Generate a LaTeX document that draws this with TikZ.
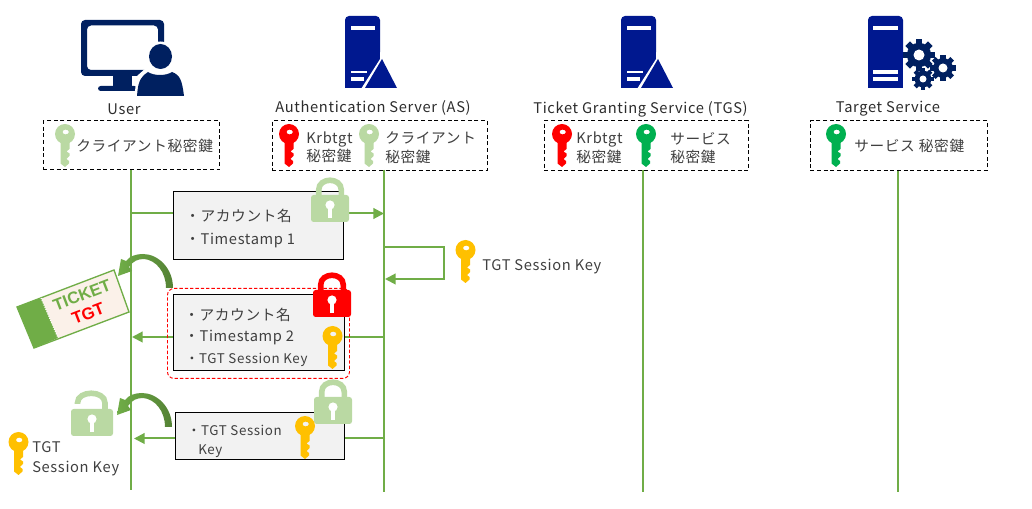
\documentclass[tikz,border=0pt]{standalone}
\usepackage{fontspec}
\setmainfont{Noto Sans CJK JP}[LetterSpace=4.5]
\newfontfamily\arialbold{Liberation Sans}[BoldFont=* Bold]
\definecolor{navy}{HTML}{002060}
\definecolor{srvblue}{HTML}{00188F}
\definecolor{lineG}{HTML}{70AD47}
\definecolor{darkG}{HTML}{548235}
\definecolor{keyPale}{HTML}{BAD9A3}
\definecolor{keyGreen}{HTML}{00B050}
\definecolor{keyGold}{HTML}{FFC000}
\definecolor{keyRed}{HTML}{FF0000}
\definecolor{txt}{HTML}{404040}
\definecolor{boxfill}{HTML}{F2F2F2}
\definecolor{cream}{HTML}{FBF1E9}
\usetikzlibrary{arrows.meta}
\tikzset{
  x=0.75pt,y=-0.75pt,
  lifeline/.style={draw=lineG,line width=1.5pt},
  msgarrow/.style={draw=lineG,line width=1.5pt,-{Triangle[length=8pt,width=8pt]}},
  dashbox/.style={draw=black,densely dashed,line width=0.6pt,inner sep=0pt,anchor=north west},
  msgbox/.style={draw=black,fill=boxfill,line width=0.75pt,inner sep=0pt,anchor=north west},
  lbl/.style={text=txt,font=\fontsize{11}{13}\selectfont,inner sep=0pt,anchor=west,text height=1.1em,text depth=.16em},
  lblsmall/.style={lbl,font=\fontsize{10}{12}\selectfont},
  title/.style={text=txt!70!black,font=\fontsize{11}{13}\selectfont,inner sep=0pt,anchor=center,text height=1.1em,text depth=.16em},
  pics/keyicon/.style={code={
    \fill[#1,even odd rule] (0,0) circle [radius=10] (0.7,-2) circle [x radius=3.2,y radius=2.4];
    \fill[#1] (-4.5,6) -- (-4.5,29.5) -- (0,33) -- (4,29.5) -- (4,27) -- (1.5,25) -- (4.5,22) -- (4.5,19.5) -- (1.5,17.5) -- (4.5,15) -- (4.5,6) -- cycle;
  }},
  pics/lockicon/.style={code={
    \draw[#1,line width=4.2pt] (-11.3,1) -- (-11.3,-5) .. controls (-11.3,-18) and (11.3,-18) .. (11.3,-5) -- (11.3,1);
    \fill[#1,rounded corners=2pt] (-19,0) rectangle (19,27);
    \fill[white] (0,10) circle [radius=4.6];
    \fill[white] (-1.9,10) rectangle (1.9,23);
  }},
  pics/openlock/.style={code={
    \draw[#1,line width=4.2pt] (-14.5,-5) -- (-14.5,-6) .. controls (-14.5,-19) and (13,-19) .. (13,-6) -- (13,1);
    \fill[#1,rounded corners=2pt] (-21,0) rectangle (21,27);
    \fill[white] (0,10) circle [radius=4.6];
    \fill[white] (-1.9,10) rectangle (1.9,23);
  }},
  pics/curlarrow/.style={code={
    \path[left color=lineG,right color=darkG]
      (173,288) .. controls (173,268) and (158,254) .. (143,254)
      .. controls (136,254) and (130,256) .. (126,261)
      -- (121,259) -- (118,276) -- (132,271) -- (129,267)
      .. controls (133,261) and (138,259) .. (144,259)
      .. controls (156,260) and (166,272) .. (166,288) -- cycle;
  }},
  pics/asserver/.style={code={
    \fill[srvblue,rounded corners=3pt] (0,0) rectangle (35,40);
    \fill[srvblue] (0,20) rectangle (35,72);
    \fill[white] (6,10) rectangle (30,14);
    \fill[white] (37,40) -- (37,73) -- (16,73) -- cycle;
    \fill[srvblue] (37,43) -- (52,72) -- (20,72) -- cycle;
    \fill[white] (6,55) rectangle (22,57);
    \fill[white] (6,61) rectangle (19,65);
  }},
  pics/gearicon/.style 2 args={code={
    \fill[navy] (0,0) circle [radius=#1*0.76];
    \foreach \a in {0,45,...,315}{
      \fill[navy,rotate=\a] (-#1*0.2,-#1) rectangle (#1*0.2,0);
    }
    \fill[white] (0,0) circle [radius=#2];
  }},
}
\begin{document}
\begin{tikzpicture}
\useasboundingbox[fill=white] (0,0) rectangle (1032,509);

% ---- lifeline anchors
\coordinate (uT) at (131,170); \coordinate (uB) at (131,490);
\coordinate (aT) at (384,170); \coordinate (aB) at (384,492);
\coordinate (gT) at (643,170); \coordinate (gB) at (643,492);
\coordinate (sT) at (898,170); \coordinate (sB) at (898,492);
\draw[lifeline] (uT) -- (uB);
\draw[lifeline] (aT) -- (aB);
\draw[lifeline] (gT) -- (gB);
\draw[lifeline] (sT) -- (sB);

% ---- icons
\fill[navy,even odd rule,rounded corners=3pt] (81,20) rectangle (164,76) (87,25.5) rectangle (158,70);
\fill[navy] (113,76) rectangle (132,87);
\fill[navy,rounded corners=2pt] (98,86) rectangle (137,91);
\fill[white] (160.5,56.5) circle [x radius=14,y radius=15];
\fill[white] (134,98) -- (137,76) -- (146,68) -- (174,68) -- (186,76) -- (187,98) -- cycle;
\fill[navy] (160.5,56.5) circle [x radius=11.5,y radius=12.5];
\fill[navy] (137,96) .. controls (138,84) and (139,78) .. (148,72) .. controls (154,76) and (166,76) .. (172,72) .. controls (180,75) and (182,80) .. (184,96) -- cycle;

\pic at (345,16) {asserver};
\pic at (621,16) {asserver};

\fill[srvblue,rounded corners=3pt] (868,16) rectangle (903,56);
\fill[srvblue] (868,36) rectangle (903,88);
\fill[white] (873,26.5) rectangle (898,30);
\fill[white] (873,70) rectangle (898,74);
\fill[white] (873,77) rectangle (898,81);
\pic at (919,55) {gearicon={16}{5.5}};
\pic at (943,68) {gearicon={13}{4.5}};
\pic at (923,79) {gearicon={11}{3.5}};

% ---- titles
\node[title] (tUser) at (124,108) {User};
\node[title] (tAS) at (373,106) {Authentication Server (AS)};
\node[title] (tTGS) at (640.5,107) {Ticket Granting Service (TGS)};
\node[title] (tTS) at (888,106) {Target Service};

% ---- dashed key boxes
\node[dashbox,minimum width=132pt,minimum height=36.75pt] (bUser) at (43,120.5) {};
\node[dashbox,minimum width=161.25pt,minimum height=37pt] (bAS) at (272,120.5) {};
\node[dashbox,minimum width=153pt,minimum height=37pt] (bTGS) at (544,120.5) {};
\node[dashbox,minimum width=132.75pt,minimum height=37pt] (bTS) at (810,120.5) {};

\pic at (65,134) {keyicon=keyPale};
\node[lbl] (l1) at (76,145) {クライアント秘密鍵};
\pic at (289,134) {keyicon=keyRed};
\node[lbl] (l2) at (306,137) {Krbtgt};
\node[lbl] (l3) at (306,155) {秘密鍵};
\pic at (369,134) {keyicon=keyPale};
\node[lbl] (l4) at (385,137) {クライアント};
\node[lbl] (l5) at (385,156) {秘密鍵};
\pic at (562,134) {keyicon=keyRed};
\node[lbl] (l6) at (576,137) {Krbtgt};
\node[lbl] (l7) at (576,156) {秘密鍵};
\pic at (646,134) {keyicon=keyGreen};
\node[lbl] (l8) at (670,138) {サービス};
\node[lbl] (l9) at (670,156) {秘密鍵};
\pic at (836,134) {keyicon=keyGreen};
\node[lbl] (l10) at (854,145) {サービス 秘密鍵};

% ---- messages
\coordinate (m1a) at (131,213.5); \coordinate (m1b) at (384,213.5);
\draw[msgarrow] (m1a) -- (m1b);
\coordinate (m2a) at (384,247); \coordinate (m2b) at (443.5,247);
\coordinate (m2c) at (443.5,279); \coordinate (m2d) at (385,279);
\draw[msgarrow] (m2a) -- (m2b) -- (m2c) -- (m2d);
\coordinate (m3a) at (384,337); \coordinate (m3b) at (132,337);
\draw[msgarrow] (m3a) -- (m3b);
\coordinate (m4a) at (385,438.5); \coordinate (m4b) at (134,438.5);
\draw[msgarrow] (m4a) -- (m4b);

\node[msgbox,minimum width=127.5pt,minimum height=51pt] (box1) at (173,191.5) {};
\node[lbl] (t11) at (185,215.5) {・アカウント名};
\node[lbl] (t12) at (185,238) {・Timestamp 1};
\pic at (330,195) {lockicon=keyPale};

\node[draw=red,dashed,dash pattern=on 2.5pt off 1.5pt,line width=0.7pt,rounded corners=5pt,inner sep=0pt,anchor=north west,minimum width=136.5pt,minimum height=67.5pt] (redbox) at (167,288) {};
\node[msgbox,minimum width=128.25pt,minimum height=57pt] (box2) at (172.5,294) {};
\node[lbl] (t21) at (184,314) {・アカウント名};
\node[lbl] (t22) at (184,335.5) {・Timestamp 2};
\node[lblsmall] (t23) at (185,357) {・TGT Session Key};
\pic at (332,290) {lockicon=keyRed};
\pic at (332.5,336) {keyicon=keyGold};

\node[msgbox,minimum width=126.75pt,minimum height=35.25pt] (box3) at (175,412) {};
\node[lblsmall] (t31) at (187,429) {・TGT Session};
\node[lblsmall] (t32) at (198,448) {Key};
\pic at (333,397) {lockicon=keyPale};
\pic at (305,426) {keyicon=keyGold};

\pic at (465.5,250) {keyicon=keyGold};
\node[lbl] (t4) at (482,264) {TGT Session Key};

% ---- ticket
\fill[cream,draw=lineG,line width=1pt] (17,307) -- (114,270) -- (129,312) -- (34,348) -- cycle;
\fill[lineG] (17,307) -- (41,298) -- (58,338) -- (34,348) -- cycle;
\draw[white,line width=0.8pt,densely dotted] (41,298) -- (58,338);
\node[inner sep=0pt,rotate=21,text=lineG,font=\arialbold\bfseries\fontsize{12.5}{14}\selectfont] (ticket) at (82,295) {TICKET};
\node[inner sep=0pt,rotate=21,text=red,font=\arialbold\bfseries\fontsize{12.5}{14}\selectfont] (tgt) at (88,313.5) {TGT};

% ---- curved arrows
\pic {curlarrow};
\pic[xshift=-0.75pt,yshift=-104.25pt] {curlarrow};

% ---- unlocked lock and key, left
\pic at (92,409) {openlock=keyPale};
\pic at (18.5,442) {keyicon=keyGold};
\node[lbl] (t51) at (32,446) {TGT};
\node[lbl] (t52) at (32,466) {Session Key};
\end{tikzpicture}
\end{document}
